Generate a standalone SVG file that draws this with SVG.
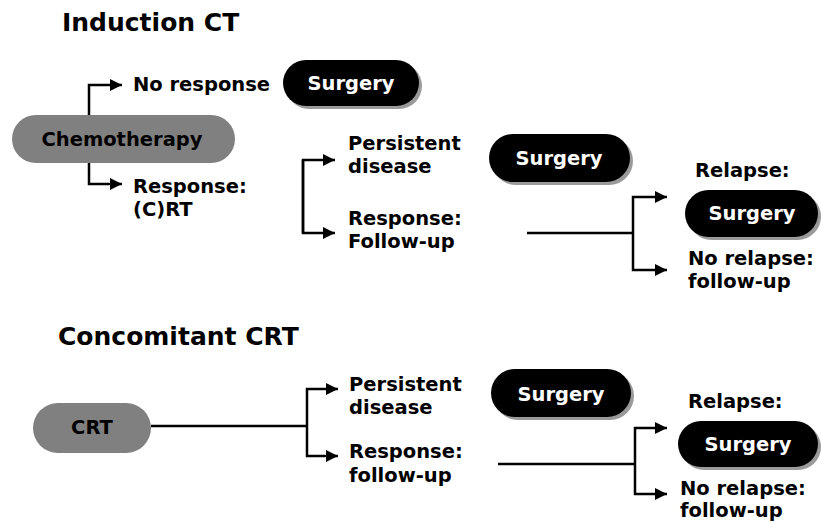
<svg xmlns="http://www.w3.org/2000/svg" width="821" height="522" viewBox="0 0 821 522">
<defs>
<marker id="ah" viewBox="0 0 10 10" refX="10" refY="5" markerWidth="13" markerHeight="12" markerUnits="userSpaceOnUse" orient="auto">
<path d="M0,0 L10,5 L0,10 z" fill="#000"/>
</marker>
<style>
text{font-family:"DejaVu Sans","Verdana",sans-serif;font-weight:bold;fill:#000}
.title{font-size:25px}
.lbl{font-size:19.5px}
.pt{font-size:19.5px;text-anchor:middle}
.wt{fill:#fff}
.gray{fill:#808080}
.black{fill:#000}
.shadow{fill:#9a9a9a}
.ln{fill:none;stroke:#000;stroke-width:2.5}
.arr{fill:none;stroke:#000;stroke-width:2.5;marker-end:url(#ah)}
</style>
</defs>
<rect width="821" height="522" fill="#fff"/>

<text class="title" x="62" y="31">Induction CT</text>
<text class="title" x="58" y="345">Concomitant CRT</text>

<g id="connectors">
<path class="arr" d="M89,115 V85 H122"/>
<path class="arr" d="M89,163 V184 H122"/>
<path class="arr" d="M303,233 V160 H335"/>
<path class="arr" d="M303,160 V233 H335"/>
<path class="ln" d="M527,233 H633"/>
<path class="arr" d="M633,233 V197 H667"/>
<path class="arr" d="M633,233 V270 H667"/>
<path class="ln" d="M151,426 H307"/>
<path class="arr" d="M307,426 V389 H338"/>
<path class="arr" d="M307,426 V456 H338"/>
<path class="ln" d="M498,464 H635"/>
<path class="arr" d="M635,464 V428 H667"/>
<path class="arr" d="M635,464 V494 H667"/>
</g>

<g id="chemotherapy">
<rect class="gray" x="12" y="115" width="223" height="48" rx="24"/>
<text class="pt" x="122" y="146">Chemotherapy</text>
</g>
<g id="no-response"><text class="lbl" x="133" y="91">No response</text></g>
<g id="surgery1">
<rect class="shadow" x="286" y="63" width="136" height="46" rx="23"/>
<rect class="black" x="283" y="60" width="136" height="46" rx="23"/>
<text class="pt wt" x="351" y="90">Surgery</text>
</g>
<g id="response-crt">
<text class="lbl" x="133" y="193">Response:</text>
<text class="lbl" x="133" y="216">(C)RT</text>
</g>
<g id="persistent1">
<text class="lbl" x="348" y="150">Persistent</text>
<text class="lbl" x="348" y="173">disease</text>
</g>
<g id="surgery2">
<rect class="shadow" x="492" y="137" width="141" height="48" rx="24"/>
<rect class="black" x="489" y="134" width="141" height="48" rx="24"/>
<text class="pt wt" x="559" y="165">Surgery</text>
</g>
<g id="response-followup1">
<text class="lbl" x="348" y="225">Response:</text>
<text class="lbl" x="348" y="248">Follow-up</text>
</g>
<g id="relapse1"><text class="lbl" x="695" y="177">Relapse:</text></g>
<g id="surgery3">
<rect class="shadow" x="688" y="193" width="133" height="47" rx="23.5"/>
<rect class="black" x="685" y="190" width="133" height="47" rx="23.5"/>
<text class="pt wt" x="752" y="220">Surgery</text>
</g>
<g id="norelapse1">
<text class="lbl" x="688" y="265">No relapse:</text>
<text class="lbl" x="688" y="288">follow-up</text>
</g>

<g id="crt">
<rect class="gray" x="33" y="403" width="118" height="50" rx="25"/>
<text class="pt" x="92" y="434">CRT</text>
</g>
<g id="persistent2">
<text class="lbl" x="349" y="391">Persistent</text>
<text class="lbl" x="349" y="414">disease</text>
</g>
<g id="surgery4">
<rect class="shadow" x="494" y="372" width="140" height="48" rx="24"/>
<rect class="black" x="491" y="369" width="140" height="48" rx="24"/>
<text class="pt wt" x="561" y="401">Surgery</text>
</g>
<g id="response-followup2">
<text class="lbl" x="349" y="458">Response:</text>
<text class="lbl" x="349" y="482">follow-up</text>
</g>
<g id="relapse2"><text class="lbl" x="688" y="408">Relapse:</text></g>
<g id="surgery5">
<rect class="shadow" x="681" y="424" width="140" height="46" rx="23"/>
<rect class="black" x="678" y="421" width="140" height="46" rx="23"/>
<text class="pt wt" x="748" y="451">Surgery</text>
</g>
<g id="norelapse2">
<text class="lbl" x="680" y="495">No relapse:</text>
<text class="lbl" x="680" y="517">follow-up</text>
</g>
</svg>
